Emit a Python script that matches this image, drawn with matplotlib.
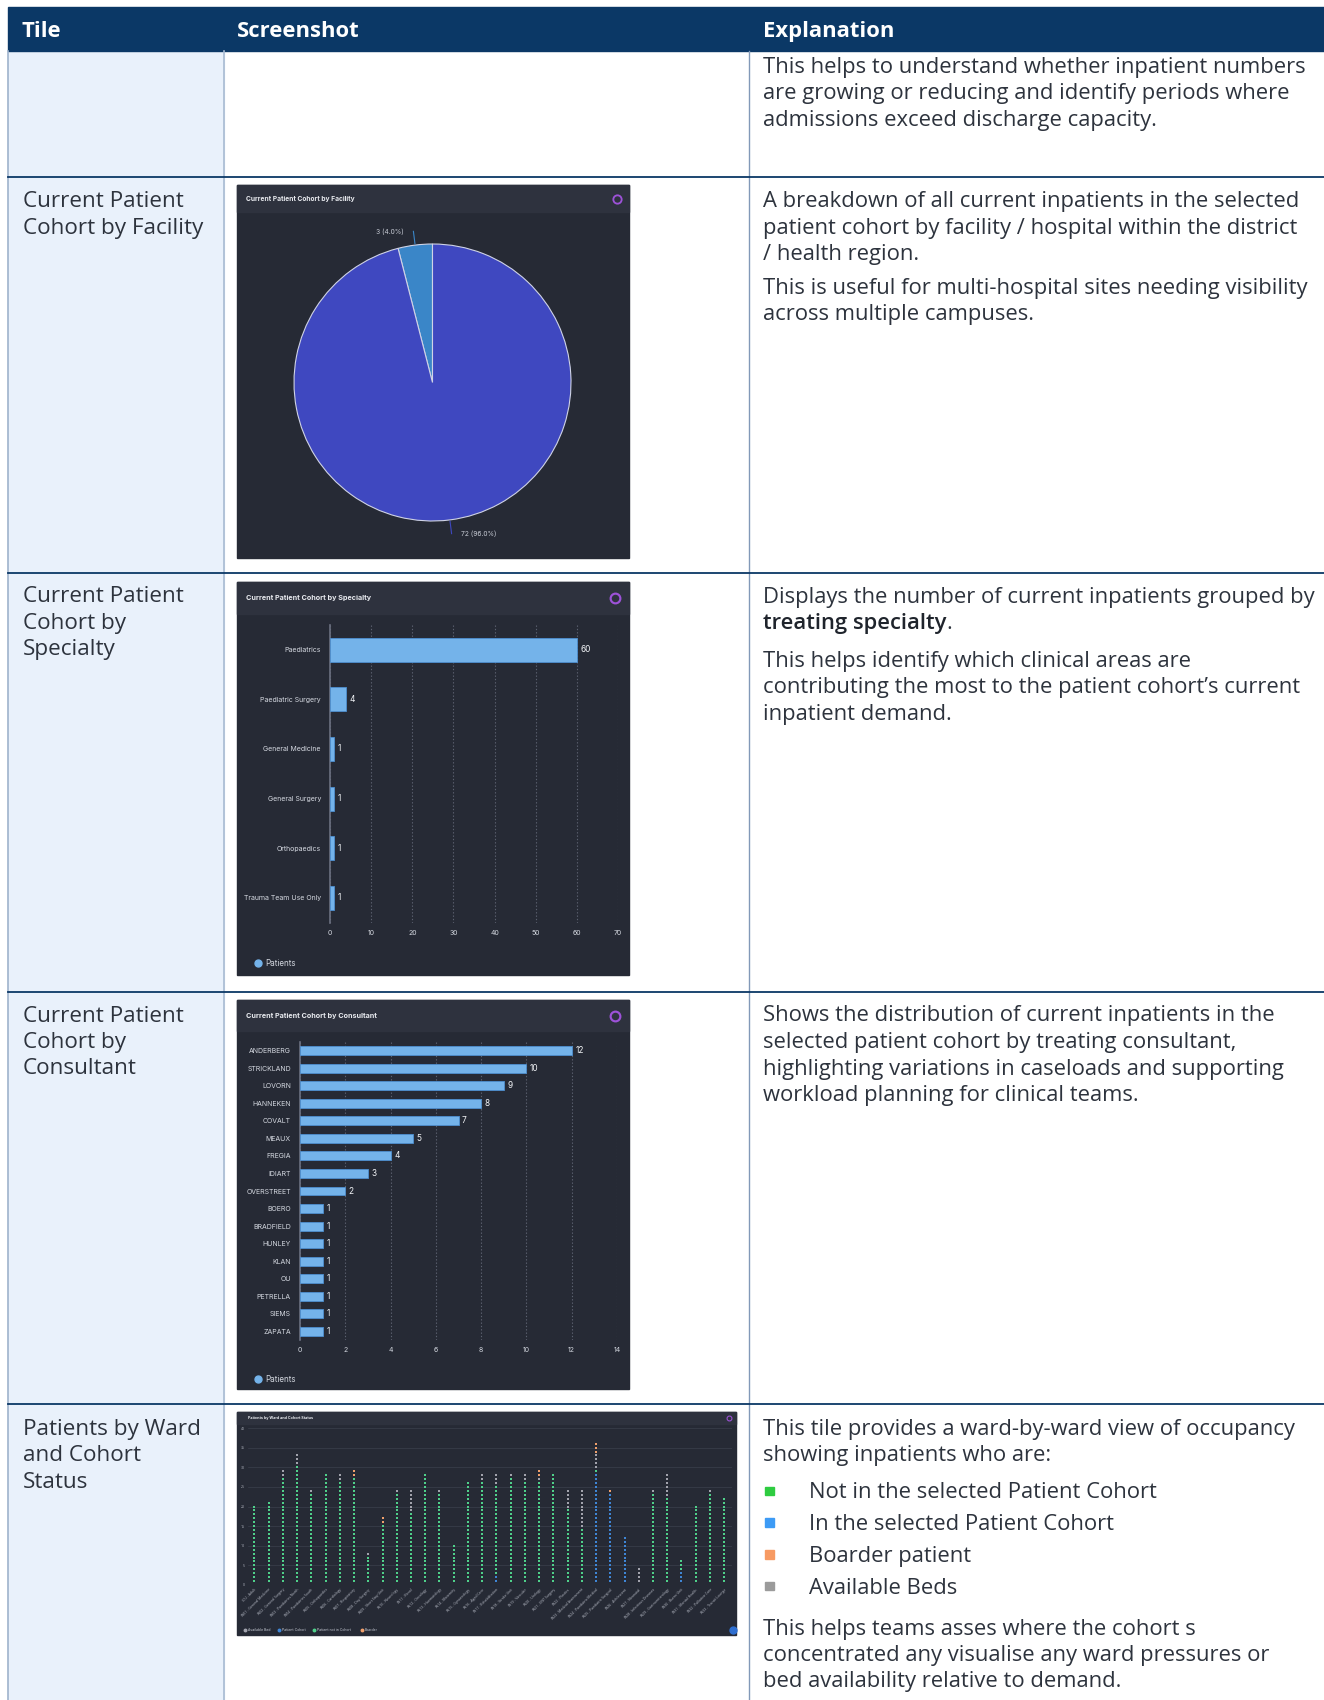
import numpy as np
import matplotlib
matplotlib.use("Agg")
import matplotlib.pyplot as plt
from matplotlib.patches import Rectangle

plt.rcParams['font.family'] = ['Open Sans', 'DejaVu Sans']

W, H = 1324, 1700

# ── Data ──

facility_values = [3, 72]
facility_colors = ['#3a86c8', '#3f48c0']

specialties = ['Paediatrics', 'Paediatric Surgery', 'General Medicine',
               'General Surgery', 'Orthopaedics', 'Trauma Team Use Only']
specialty_patients = [60, 4, 1, 1, 1, 1]

consultants = ['ANDERBERG', 'STRICKLAND', 'LOVORN', 'HANNEKEN', 'COVALT', 'MEAUX',
               'FREGIA', 'IDIART', 'OVERSTREET', 'BOERO', 'BRADFIELD', 'HUNLEY',
               'KLAN', 'OU', 'PETRELLA', 'SIEMS', 'ZAPATA']
consultant_patients = [12, 10, 9, 8, 7, 5, 4, 3, 2, 1, 1, 1, 1, 1, 1, 1, 1]

wards = ['ICU - Adult', 'W01 - General Medicine', 'W02 - General Surgery', 'W03 - Paediatrics North',
         'W04 - Paediatrics South', 'W05 - Orthopaedics', 'W06 - Cardiology', 'W07 - Respiratory',
         'W08 - Day Surgery', 'W09 - Short Stay Unit', 'W10 - Neurology', 'W11 - Renal',
         'W12 - Oncology', 'W13 - Haematology', 'W14 - Maternity', 'W15 - Gynaecology',
         'W16 - Aged Care', 'W17 - Rehabilitation', 'W18 - Stroke Unit', 'W19 - Vascular',
         'W20 - Urology', 'W21 - ENT Surgery', 'W22 - Plastics', 'W23 - Medical Assessment',
         'W24 - Paediatric Medical', 'W25 - Paediatric Surgical', 'W26 - Adolescent',
         'W27 - Neonatal', 'W28 - Infectious Diseases', 'W29 - Gastroenterology',
         'W30 - Burns Unit', 'W31 - Mental Health', 'W32 - Palliative Care', 'W33 - Transit Lounge']
ward_cohort = [0, 0, 0, 0, 0, 0, 0, 0, 0, 0, 0, 0, 0, 0, 0, 0, 0, 2, 0, 0, 0, 0, 0, 0,
               28, 23, 12, 0, 0, 0, 3, 0, 0, 0]
ward_not_cohort = [20, 21, 27, 30, 23, 28, 26, 27, 7, 15, 23, 18, 28, 23, 10, 26, 26, 23,
                   27, 26, 26, 28, 19, 14, 1, 0, 0, 0, 23, 22, 3, 20, 23, 22]
ward_available = [0, 0, 2, 3, 1, 0, 2, 0, 1, 0, 1, 6, 0, 1, 0, 0, 2, 3, 1, 2, 1, 0, 5, 10,
                  4, 0, 0, 4, 1, 6, 0, 0, 1, 0]
ward_boarder = [0, 0, 0, 0, 0, 0, 0, 2, 0, 2, 0, 0, 0, 0, 0, 0, 0, 0, 0, 0, 2, 0, 0, 0,
                3, 1, 0, 0, 0, 0, 0, 0, 0, 0]
ward_status = ['Patient Cohort', 'Patient not in Cohort', 'Available Bed', 'Boarder']
ward_colors = ['#3f86d6', '#4fd08a', '#a2a3ad', '#f0a06c']

# ── Page text ──

row_tiles = [
    [],
    ['Current Patient', 'Cohort by Facility'],
    ['Current Patient', 'Cohort by', 'Specialty'],
    ['Current Patient', 'Cohort by', 'Consultant'],
    ['Patients by Ward', 'and Cohort', 'Status'],
]
expl_row0 = ['This helps to understand whether inpatient numbers',
             'are growing or reducing and identify periods where',
             'admissions exceed discharge capacity.']
expl_row1a = ['A breakdown of all current inpatients in the selected',
              'patient cohort by facility / hospital within the district',
              '/ health region.']
expl_row1b = ['This is useful for multi-hospital sites needing visibility',
              'across multiple campuses.']
expl_row2b = ['This helps identify which clinical areas are',
              'contributing the most to the patient cohort\u2019s current',
              'inpatient demand.']
expl_row3 = ['Shows the distribution of current inpatients in the',
             'selected patient cohort by treating consultant,',
             'highlighting variations in caseloads and supporting',
             'workload planning for clinical teams.']
expl_row4a = ['This tile provides a ward-by-ward view of occupancy',
              'showing inpatients who are:']
bullet_labels = ['Not in the selected Patient Cohort', 'In the selected Patient Cohort',
                 'Boarder patient', 'Available Beds']
bullet_colors = ['#2ecc40', '#3d9bf5', '#f79a62', '#9b9b9b']
expl_row4b = ['This helps teams asses where the cohort s',
              'concentrated any visualise any ward pressures or',
              'bed availability relative to demand.']

NAVY = '#0b3866'
TXT = '#2d333d'
PANEL = '#262a35'
PANEL_BAR = '#2e323e'
FS = 15.8
FS_TILE = 16.2
LH = 26.5
DY = 2  # small downward nudge of page text
CHART_FONT = ['Inter', 'DejaVu Sans']


def px_axes(fig, x0, y0, x1, y1):
    return fig.add_axes([x0 / W, 1 - y1 / H, (x1 - x0) / W, (y1 - y0) / H])


def text_block(ax, x, y, lines, fs=FS, **kw):
    for i, line in enumerate(lines):
        ax.text(x, y + DY + i * LH, line, fontsize=fs, color=TXT, va='center', ha='left', **kw)


def panel(ax, x0, y0, x1, y1, bar_h, title, title_fs, icon_ms):
    ax.add_patch(Rectangle((x0, y0), x1 - x0, y1 - y0, color=PANEL, zorder=2))
    ax.add_patch(Rectangle((x0, y0), x1 - x0, bar_h, color=PANEL_BAR, zorder=2))
    ax.text(x0 + (x1 - x0) * 0.022, y0 + bar_h / 2, title, fontsize=title_fs, color='#e8eaef',
            fontweight='bold', va='center', zorder=3, family=CHART_FONT)
    ax.plot(x1 - 14 * icon_ms / 7, y0 + bar_h / 2, 'o', ms=icon_ms, mfc='none', mec='#9d52d8',
            mew=icon_ms / 4.5, zorder=3)


def hbar_chart(ax, labels, values, xmax, step, bar_h, label_pad):
    y = np.arange(len(labels))
    ax.barh(y, values, height=bar_h, color='#74b3ea', edgecolor='#4d8fd0', linewidth=0.6, zorder=3)
    ax.set_xlim(0, xmax)
    ax.set_ylim(len(labels) - 0.5, -0.5)
    ax.set_xticks(np.arange(0, xmax + 1, step))
    ax.set_yticks(y, labels)
    for s in ['top', 'right', 'bottom']:
        ax.spines[s].set_visible(False)
    ax.spines['left'].set_color('#6b7080')
    ax.spines['left'].set_linewidth(1.2)
    ax.grid(axis='x', color='#5c6170', linestyle=(0, (1.2, 1.8)), lw=0.8)
    ax.tick_params(length=0, colors='#d4d8e0', labelsize=5)
    ax.tick_params(axis='y', pad=label_pad)
    ax.tick_params(axis='x', pad=5)
    for lab in ax.get_xticklabels() + ax.get_yticklabels():
        lab.set_family(CHART_FONT)
    for yi, v in zip(y, values):
        ax.annotate(str(v), (v, yi), xytext=(2.5, 0), textcoords='offset points',
                    va='center', color='#f2f4f7', fontsize=6, family=CHART_FONT)
    ax.set_facecolor('none')


fig = plt.figure(figsize=(W / 100, H / 100), dpi=100)
page = fig.add_axes([0, 0, 1, 1])
page.set_xlim(0, W)
page.set_ylim(H, 0)
page.axis('off')

# ── Table frame ──
row_lines = [177, 573, 992, 1404]
col_tile, col_shot = 224, 749
page.add_patch(Rectangle((8, 51), col_tile - 8, H - 51, color='#e9f1fb', zorder=0))
page.add_patch(Rectangle((8, 7), W - 8, 44, color=NAVY, zorder=1))
page.plot([8, 8], [51, H], color='#9fb3cc', lw=1.2, zorder=1)
page.plot([col_tile, col_tile], [51, H], color='#a8bad2', lw=1.2, zorder=1)
page.plot([col_shot, col_shot], [51, H], color='#8299b8', lw=1.0, zorder=1)
for yl in row_lines:
    page.plot([8, W], [yl, yl], color=NAVY, lw=1.3, zorder=1)

for x, lab in [(22, 'Tile'), (237, 'Screenshot'), (763, 'Explanation')]:
    page.text(x, 29.5 + DY, lab, fontsize=FS, color='white', fontweight='bold', va='center')

tile_y = [None, 199.5, 595, 1014, 1427]
for lines, ty in zip(row_tiles, tile_y):
    if lines:
        text_block(page, 23, ty, lines, fs=FS_TILE)

XE = 763
text_block(page, XE, 65, expl_row0)
text_block(page, XE, 199.5, expl_row1a)
text_block(page, XE, 286, expl_row1b)
text_block(page, XE, 595, ['Displays the number of current inpatients grouped by'])
bold = page.text(XE, 595 + DY + LH, 'treating specialty', fontsize=FS, color='#1f242c',
                 fontweight='semibold', va='center')
page.annotate('.', xy=(1, 0), xycoords=bold, va='bottom', ha='left', fontsize=FS, color=TXT)
text_block(page, XE, 659, expl_row2b)
text_block(page, XE, 1014, expl_row3)
text_block(page, XE, 1427, expl_row4a)
for i, (lab, c) in enumerate(zip(bullet_labels, bullet_colors)):
    yb = 1491 + i * 31.8
    page.add_patch(Rectangle((765, yb - 4.5), 8.5, 8.5, color=c, zorder=3))
    page.text(809, yb + DY, lab, fontsize=FS, color=TXT, va='center')
text_block(page, XE, 1627, expl_row4b)

# ── Panels ──
panel(page, 237, 185, 629, 558, 27, 'Current Patient Cohort by Facility', 4.8, 6)
panel(page, 237, 582, 629, 975, 32, 'Current Patient Cohort by Specialty', 5.2, 7)
panel(page, 237, 1000, 629, 1389, 31, 'Current Patient Cohort by Consultant', 5.2, 7)
panel(page, 237, 1412, 736, 1635, 12, 'Patients by Ward and Cohort Status', 2.7, 3.5)

# legends drawn on the page
for lx, ly in [(258, 963), (258, 1379)]:
    page.plot(lx, ly, 'o', ms=5, color='#74b3ea', zorder=3)
    page.text(lx + 7, ly, 'Patients', fontsize=5.8, color='#d4d8e0', va='center', zorder=3,
              family=CHART_FONT)
lx = 245
for lab, c in zip(['Available Bed', 'Patient Cohort', 'Patient not in Cohort', 'Boarder'],
                  [ward_colors[2], ward_colors[0], ward_colors[1], ward_colors[3]]):
    page.plot(lx, 1630, 'o', ms=1.8, color=c, zorder=3)
    page.text(lx + 3, 1630, lab, fontsize=2.5, color='#c8ccd6', va='center', zorder=3,
              family=CHART_FONT)
    lx += 3 + len(lab) * 1.75 + 8
page.plot(733, 1630, 'o', ms=5, color='#2f6fd0', zorder=3)

# ── Pie ──
ax = px_axes(fig, 294, 244, 571, 521)
wedges, _ = ax.pie(facility_values, colors=facility_colors, startangle=90, counterclock=True,
                   wedgeprops=dict(edgecolor='#cfd3e6', linewidth=0.8))
ax.set_xlim(-1, 1)
ax.set_ylim(-1, 1)
total = sum(facility_values)
for w, v in zip(wedges, facility_values):
    ang = np.deg2rad((w.theta1 + w.theta2) / 2)
    cx, cy = np.cos(ang), np.sin(ang)
    ax.plot([1.01 * cx, 1.1 * cx], [1.01 * cy, 1.1 * cy], color=w.get_facecolor(), lw=0.8,
            clip_on=False)
    side = 1 if cx > 0 else -1
    ax.annotate(f'{v} ({v / total * 100:.1f}%)', (1.1 * cx, 1.1 * cy),
                xytext=(side * 7, 0), textcoords='offset points',
                ha='left' if side > 0 else 'right', va='center',
                fontsize=4.8, color='#c8ccd6', annotation_clip=False, family=CHART_FONT)

# ── Specialty ──
ax = px_axes(fig, 330, 625, 618, 922.6)
hbar_chart(ax, specialties, specialty_patients, 70, 10, 0.48, 6.5)

# ── Consultant ──
ax = px_axes(fig, 300, 1042, 617, 1340)
hbar_chart(ax, consultants, consultant_patients, 14, 2, 0.51, 6.5)

# ── Ward ──
ax = px_axes(fig, 248, 1428, 732, 1585)
ax.set_facecolor('none')
x = np.arange(len(wards))
stacks = [ward_cohort, ward_not_cohort, ward_available, ward_boarder]
base = np.zeros(len(wards), dtype=int)
for counts, c, lab in zip(stacks, ward_colors, ward_status):
    xs, ys = [], []
    for xi, b, n in zip(x, base, counts):
        xs += [xi] * n
        ys += list(range(b + 1, b + n + 1))
    ax.scatter(xs, ys, marker='s', s=3.3, color=c, linewidths=0, label=lab, zorder=3)
    base = base + np.array(counts)
ax.set_xlim(-0.45, 33.55)
ax.set_ylim(0, 40)
ax.set_yticks(np.arange(0, 41, 5))
ax.set_xticks(x, wards, rotation=45, ha='right', rotation_mode='anchor')
ax.grid(axis='y', color='#3b404d', lw=0.5)
for s in ax.spines.values():
    s.set_visible(False)
ax.tick_params(length=0, colors='#b9bdc8', labelsize=2.5, pad=2)

fig.savefig('out.png', dpi=100)
